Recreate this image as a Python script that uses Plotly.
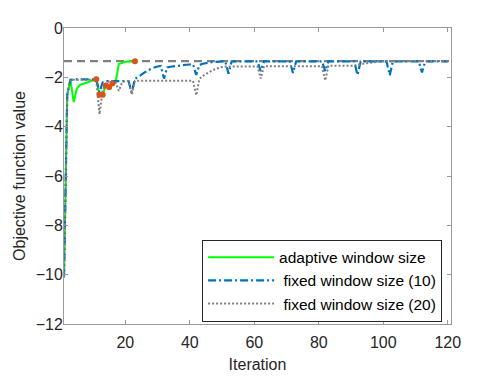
import plotly.graph_objects as go

# adaptive window size (green), iteraties 1..23
iter_adaptive = list(range(1, 24))
obj_adaptive = [-10.1, -2.7, -2.1, -3.0, -2.45, -2.3, -2.26, -2.22, -2.17, -2.12, -2.08,
                -2.71, -2.71, -2.33, -2.4, -2.25, -2.2, -1.46, -1.4, -1.37, -1.36, -1.35, -1.35]

# punten waar het venster is aangepast (oranje)
iter_switch = [11, 12, 13, 14, 15, 16, 23]
obj_switch = [-2.08, -2.71, -2.71, -2.33, -2.4, -2.25, -1.35]

# fixed window size (10), iteraties 1..120
iter_fixed = list(range(1, 121))
obj_fixed10 = ([-10.1, -2.7, -2.1] + [-2.08] * 8 + [-2.6, -2.2] + [-2.15] * 8 + [-2.6]
               + [-2.06, -1.98, -1.88, -1.8, -1.72, -1.65, -1.6, -1.56, -1.54, -2.05]
               + [-1.6, -1.57, -1.55, -1.53, -1.51, -1.5, -1.49, -1.48, -1.47, -1.9]
               + [-1.5, -1.45, -1.42, -1.39, -1.38, -1.37, -1.36, -1.36, -1.35, -1.85]
               + [-1.35] * 9 + [-1.75]
               + [-1.35] * 9 + [-1.82]
               + [-1.35] * 9 + [-1.75]
               + [-1.35] * 9 + [-1.9]
               + [-1.35] * 9 + [-1.92]
               + [-1.35] * 9 + [-1.8]
               + [-1.35] * 8)

# fixed window size (20), iteraties 1..120
obj_fixed20 = ([-10.1, -2.7, -2.1] + [-2.1] * 8
               + [-3.5, -2.5, -2.3, -2.15, -2.15, -2.2, -2.55, -2.2, -2.15, -2.15, -2.7]
               + [-2.14] * 19 + [-2.73]
               + [-2.06, -1.95, -1.86, -1.79, -1.72, -1.66, -1.61, -1.58, -1.56] + [-1.56] * 10 + [-2.05]
               + [-1.55] * 19 + [-2.13]
               + [-1.53] * 9 + [-1.48, -1.46, -1.44, -1.42, -1.4, -1.38, -1.37, -1.36, -1.35]
               + [-1.34] * 20)

# optimum (grijze stippellijn)
optimum = -1.34

fig = go.Figure()

fig.add_trace(go.Scatter(x=[1, 121], y=[optimum, optimum], mode='lines', showlegend=False,
                         line=dict(color='#808080', width=2.2, dash='8px,5px')))
fig.add_trace(go.Scatter(x=iter_adaptive, y=obj_adaptive, mode='lines', name='adaptive window size',
                         line=dict(color='#00ff00', width=2)))
fig.add_trace(go.Scatter(x=iter_fixed, y=obj_fixed10, mode='lines', name=' fixed window size (10)',
                         line=dict(color='#0072bd', width=2.2, dash='8px,3px,2px,3px')))
fig.add_trace(go.Scatter(x=iter_fixed, y=obj_fixed20, mode='lines', name=' fixed window size (20)',
                         line=dict(color='#808080', width=2, dash='2px,2px')))
fig.add_trace(go.Scatter(x=iter_switch, y=obj_switch, mode='markers', showlegend=False,
                         marker=dict(color='#d95319', size=6)))

axis_style = dict(showline=True, linecolor='#9a9a9a', linewidth=1, mirror='ticks', automargin=False,
                  ticks='inside', ticklen=4, tickcolor='#9a9a9a', showgrid=False, zeroline=False,
                  tickfont=dict(size=16, color='#262626'))

# pagina heeft 8px body-marge, daarom 490x370
fig.update_layout(
    width=490, height=370,
    margin=dict(l=56, r=47, t=20, b=54),
    plot_bgcolor='white', paper_bgcolor='white',
    font=dict(family='Liberation Sans, Arial, sans-serif', size=16, color='#262626'),
    xaxis=dict(range=[1, 121], tickvals=[20, 40, 60, 80, 100, 120], ticklabelstandoff=4,
               title=dict(text='Iteration', font=dict(size=16), standoff=8), **axis_style),
    yaxis=dict(range=[-12, 0], tickvals=[0, -2, -4, -6, -8, -10, -12], ticklabelstandoff=-3,
               title=dict(text='Objective function value', font=dict(size=16), standoff=6), **axis_style),
    legend=dict(x=0.977, y=0.008, xanchor='right', yanchor='bottom',
                bgcolor='white', bordercolor='#262626', borderwidth=1,
                font=dict(size=15.5, color='#000000'), tracegroupgap=0, itemwidth=66),
)

fig.write_html("out.html")
